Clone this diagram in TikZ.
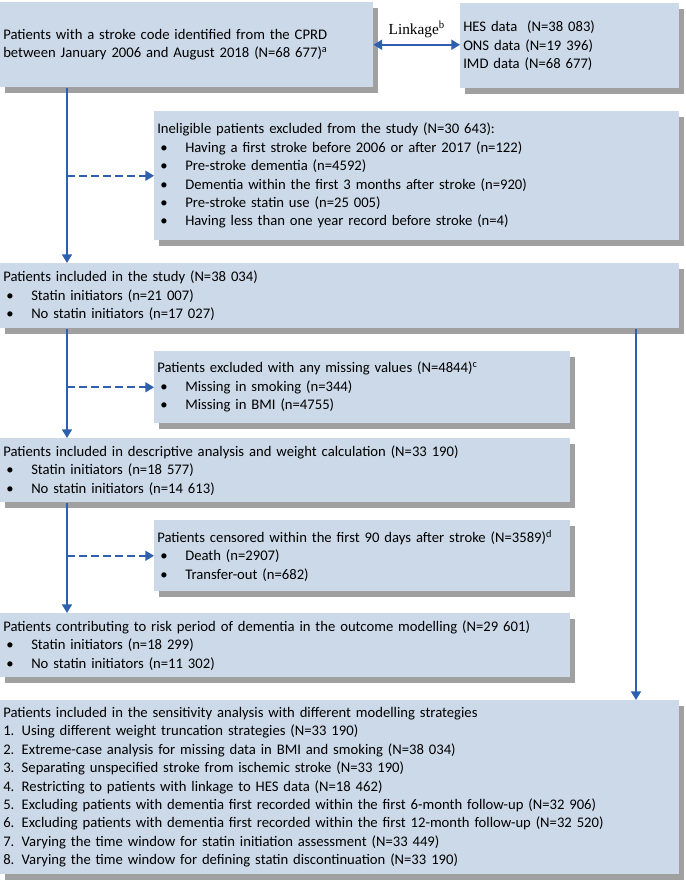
\documentclass[tikz,border=0pt]{standalone}
\usepackage{fontspec}
\setmainfont{Carlito}
\newfontfamily\linkfont{Liberation Serif}
\usetikzlibrary{arrows.meta,shadows}
\definecolor{boxfill}{RGB}{204,217,232}
\definecolor{shade}{RGB}{160,160,160}
\definecolor{arrowblue}{RGB}{46,96,174}
\newcommand\itm[1]{\hspace*{2.25pt}\makebox[18.75pt][l]{\textbullet}#1}

\begin{document}
\begin{tikzpicture}[x=0.75pt,y=-0.75pt,
  box/.style={fill=boxfill,anchor=north west,align=left,inner xsep=2.25pt,inner ysep=0pt,
    font=\fontsize{11pt}{13.8pt}\selectfont,
    drop shadow={shadow xshift=3.75pt,shadow yshift=-4.5pt,fill=shade,opacity=1}},
  flow/.style={draw=arrowblue,line width=1.2pt,-{Triangle[length=6.5pt,width=7.5pt]}},
  excl/.style={flow,dash pattern=on 6pt off 3pt}]
  \useasboundingbox (0,0) rectangle (685,881);
  \coordinate (spine) at (67,0);
  \coordinate (rspine) at (636,0);

  \node (src) at (0,2) [box,text width=275.25pt,minimum height=63.75pt]
    {Patients with a stroke code identified from the CPRD\\
     between January 2006 and August 2018 (N=68 677)\textsuperscript{a}};
  \node (linkdata) at (460,3) [box,text width=159.75pt,minimum height=63.75pt]
    {HES data\ \ (N=38 083)\\ONS data (N=19 396)\\IMD data (N=68 677)};
  \node (inelig) at (154,111) [box,text width=389.25pt,minimum height=96.75pt]
    {Ineligible patients excluded from the study (N=30 643):\\
     \itm{Having a first stroke before 2006 or after 2017 (n=122)}\\
     \itm{Pre-stroke dementia (n=4592)}\\
     \itm{Dementia within the first 3 months after stroke (n=920)}\\
     \itm{Pre-stroke statin use (n=25 005)}\\
     \itm{Having less than one year record before stroke (n=4)}};
  \node (incl) at (0,263) [box,text width=504.75pt,minimum height=48.75pt]
    {Patients included in the study (N=38 034)\\
     \itm{Statin initiators (n=21 007)}\\
     \itm{No statin initiators (n=17 027)}};
  \node (missing) at (154,351) [box,text width=307.5pt,minimum height=54pt]
    {Patients excluded with any missing values (N=4844)\textsuperscript{c}\\
     \itm{Missing in smoking (n=344)}\\
     \itm{Missing in BMI (n=4755)}};
  \node (descr) at (0,438) [box,text width=423pt,minimum height=48pt]
    {Patients included in descriptive analysis and weight calculation (N=33 190)\\
     \itm{Statin initiators (n=18 577)}\\
     \itm{No statin initiators (n=14 613)}};
  \node (censor) at (154,520) [box,text width=307.5pt,minimum height=53.25pt]
    {Patients censored within the first 90 days after stroke (N=3589)\textsuperscript{d}\\
     \itm{Death (n=2907)}\\
     \itm{Transfer-out (n=682)}};
  \node (contrib) at (0,613) [box,text width=423pt,minimum height=48pt]
    {Patients contributing to risk period of dementia in the outcome modelling (N=29 601)\\
     \itm{Statin initiators (n=18 299)}\\
     \itm{No statin initiators (n=11 302)}};
  \node (sens) at (0,700) [box,text width=504.75pt,minimum height=130.5pt]
    {Patients included in the sensitivity analysis with different modelling strategies\\
     1. Using different weight truncation strategies (N=33 190)\\
     2. Extreme-case analysis for missing data in BMI and smoking (N=38 034)\\
     3. Separating unspecified stroke from ischemic stroke (N=33 190)\\
     4. Restricting to patients with linkage to HES data (N=18 462)\\
     5. Excluding patients with dementia first recorded within the first 6-month follow-up (N=32 906)\\
     6. Excluding patients with dementia first recorded within the first 12-month follow-up (N=32 520)\\
     7. Varying the time window for statin initiation assessment (N=33 449)\\
     8. Varying the time window for defining statin discontinuation (N=33 190)};

  \draw[draw=arrowblue,line width=1.4pt,{Triangle[length=6.5pt,width=7.5pt]}-{Triangle[length=6.5pt,width=7.5pt]}]
    (src.east) -- (src.east -| linkdata.west)
    node (linklabel) [midway,above=1pt,font=\linkfont\fontsize{11.5pt}{13pt}\selectfont] {Linkage\textsuperscript{b}};
  \draw[flow] (src.south -| spine) -- (incl.north -| spine);
  \draw[excl] (inelig.west -| spine) -- (inelig.west);
  \draw[flow] (incl.south -| spine) -- (descr.north -| spine);
  \draw[excl] (missing.west -| spine) -- (missing.west);
  \draw[flow] (descr.south -| spine) -- (contrib.north -| spine);
  \draw[excl] (censor.west -| spine) -- (censor.west);
  \draw[flow] (incl.south -| rspine) -- (sens.north -| rspine);
\end{tikzpicture}
\end{document}
